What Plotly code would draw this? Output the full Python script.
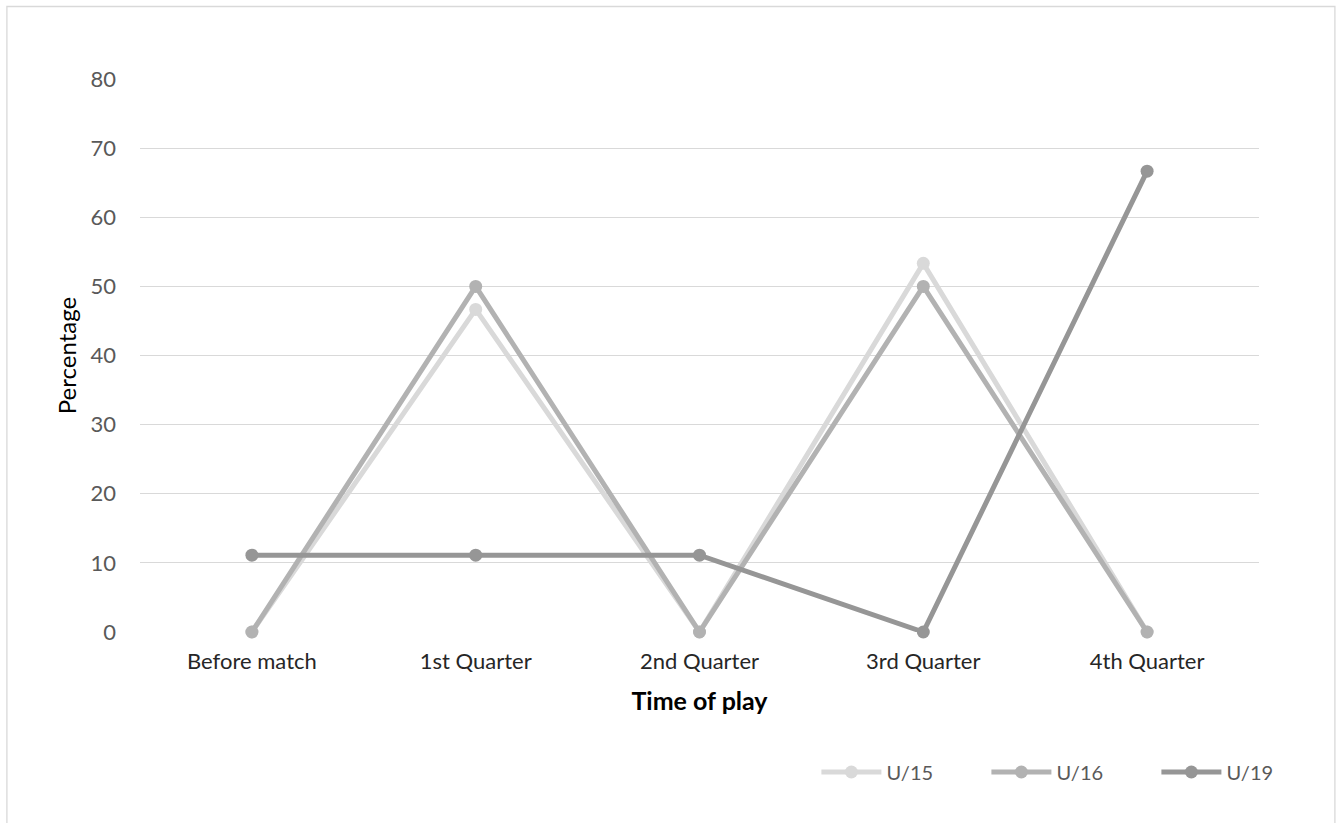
import plotly.graph_objects as go

# Time-of-play categories and percentage per age group
periods = ["Before match", "1st Quarter", "2nd Quarter", "3rd Quarter", "4th Quarter"]
u15 = [0, 46.67, 0, 53.33, 0]
u16 = [0, 50, 0, 50, 0]
u19 = [11.11, 11.11, 11.11, 0, 66.67]

series = [
    ("U/15", u15, "#d9d9d9"),
    ("U/16", u16, "#b2b2b2"),
    ("U/19", u19, "#969696"),
]

W, H = 1343, 823
L, R, T, B = 139.6, 84.4, 79, 191
pw, ph = W - L - R, H - T - B

font_family = "Lato, 'Open Sans', sans-serif"

fig = go.Figure()
for name, vals, col in series:
    fig.add_trace(go.Scatter(
        x=periods, y=vals, name=name, mode="lines+markers",
        line=dict(color=col, width=5),
        marker=dict(color=col, size=13),
        cliponaxis=False,
    ))

# pixel -> paper helpers for the outer border
def px_x(p):
    return (p - L) / pw

def px_y(p):
    return (H - B - p) / ph

fig.add_shape(type="rect", xref="paper", yref="paper",
              x0=px_x(6.5), x1=px_x(1334.5), y0=px_y(6.5), y1=px_y(840),
              line=dict(color="#d9d9d9", width=1.3), layer="below")

fig.update_layout(
    width=W, height=H,
    margin=dict(l=L, r=R, t=T, b=B, pad=0, autoexpand=False),
    paper_bgcolor="white", plot_bgcolor="white",
    font=dict(family=font_family, size=22, color="#595959"),
    showlegend=True,
    legend=dict(
        orientation="h", x=px_x(816), xanchor="left", y=px_y(772), yanchor="middle",
        font=dict(size=20, color="#595959"), entrywidth=95, entrywidthmode="pixels",
        bgcolor="rgba(0,0,0,0)", itemwidth=60,
    ),
    xaxis=dict(
        type="category", range=[-0.5, 4.5], showgrid=False, zeroline=False,
        showline=False, ticks="", automargin=False, ticklabelstandoff=14,
        tickfont=dict(size=22, color="#262626"),
        title=dict(text="<b>Time of play</b>", font=dict(size=25, color="#000000"), standoff=19),
    ),
    yaxis=dict(
        range=[0, 80], dtick=10, showgrid=True, gridcolor="#d9d9d9", gridwidth=1.3,
        zeroline=False, showline=False, ticks="", ticklabelstandoff=23, automargin=False,
        tickfont=dict(size=22, color="#595959"),
        title=dict(text="Percentage", font=dict(size=24, color="#000000"), standoff=7),
    ),
)

fig.write_html("out.html")
